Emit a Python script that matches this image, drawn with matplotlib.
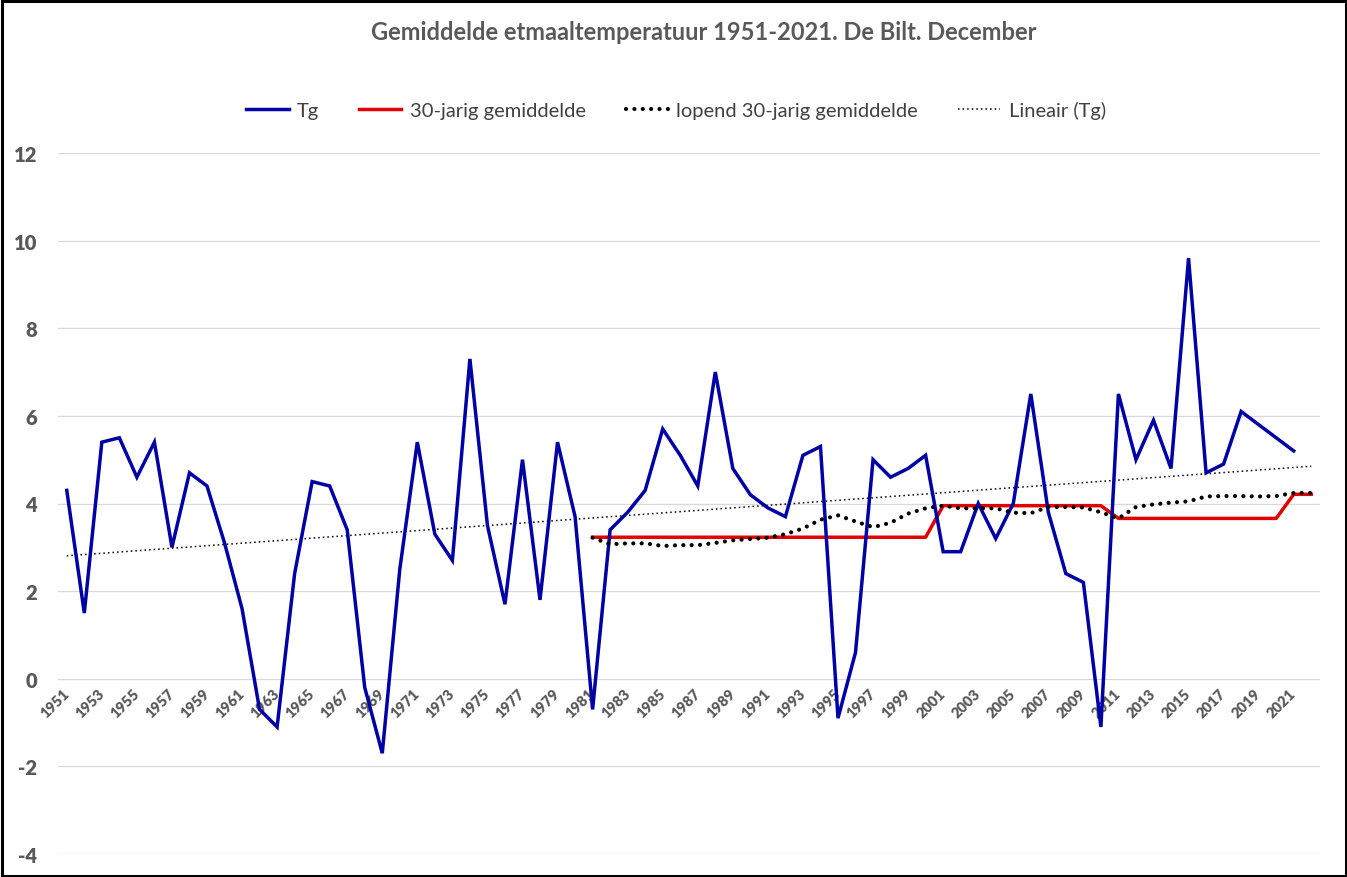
import numpy as np
import matplotlib
matplotlib.use("Agg")
import matplotlib.pyplot as plt
from matplotlib.patches import Rectangle
from matplotlib.lines import Line2D

plt.rcParams['font.family'] = ['Lato', 'DejaVu Sans']
plt.rcParams['axes.unicode_minus'] = False

years = list(range(1951, 2023))  # categories 1951..2022

tg = [4.3, 1.5, 5.4, 5.5, 4.6, 5.4, 3.0, 4.7, 4.4, 3.1,
      1.6, -0.7, -1.1, 2.4, 4.5, 4.4, 3.4, -0.2, -1.7, 2.5,
      5.4, 3.3, 2.7, 7.3, 3.5, 1.7, 5.0, 1.8, 5.4, 3.7,
      -0.7, 3.4, 3.8, 4.3, 5.7, 5.1, 4.4, 7.0, 4.8, 4.2,
      3.9, 3.7, 5.1, 5.3, -0.9, 0.6, 5.0, 4.6, 4.8, 5.1,
      2.9, 2.9, 4.0, 3.2, 4.0, 6.5, 3.8, 2.4, 2.2, -1.1,
      6.5, 5.0, 5.9, 4.8, 9.6, 4.7, 4.9, 6.1, 5.8, 5.5,
      5.2]  # 1951..2021

norm_start = 1981
norm30 = [3.23] * 20 + [3.95] * 10 + [3.66] * 10 + [4.21] * 2  # 1981..2022

lopend30 = [3.22, 3.07, 3.09, 3.09, 3.03, 3.05, 3.05, 3.10, 3.16, 3.19,
            3.22, 3.30, 3.43, 3.63, 3.73, 3.59, 3.46, 3.56, 3.77, 3.89,
            3.95, 3.89, 3.89, 3.89, 3.79, 3.78, 3.92, 3.92, 3.91, 3.80,
            3.66, 3.92, 3.98, 4.02, 4.05, 4.16, 4.17, 4.17, 4.16, 4.17,
            4.24, 4.24]  # 1981..2022

title = "Gemiddelde etmaaltemperatuur 1951-2021. De Bilt. December"
labels = ["Tg", "30-jarig gemiddelde", "lopend 30-jarig gemiddelde", "Lineair (Tg)"]

W, H = 1347, 878
fig = plt.figure(figsize=(W / 100, H / 100), dpi=100)
ax = fig.add_axes([58 / W, 23 / H, (1320 - 58) / W, (855 - 154) / H])

x_all = np.arange(len(years))
x_tg = x_all[:len(tg)]
x_norm = x_all[years.index(norm_start):]

# linear trendline of Tg (Excel style), over all categories
coef = np.polyfit(x_tg, np.array(tg), 1)
trend = np.polyval(coef, x_all)

ax.plot(x_tg, tg, color='#0000A6', lw=2.5, zorder=4, solid_joinstyle='miter')
ax.plot(x_norm, norm30, color='#E00000', lw=2.5, zorder=3)
ax.plot(x_norm, lopend30, color='black', lw=3.0, linestyle=(0, (0.01, 2.0)),
        dash_capstyle='round', zorder=5)
ax.plot(x_all, trend, color='black', lw=1.1, linestyle=(0, (1, 2)), zorder=2)

ax.set_xlim(-0.5, len(years) - 0.5)
ax.set_ylim(-4, 12)
ax.set_yticks(range(-4, 13, 2))
ax.yaxis.grid(True, color='#D9D9D9', lw=0.9)
ax.set_axisbelow(True)
for s in ax.spines.values():
    s.set_color('none')
ax.spines['bottom'].set_position(('data', 0))

ax.set_xticks(x_all[:len(tg)][::2])
ax.set_xticklabels([str(y) for y in years[:len(tg)][::2]], rotation=45,
                   ha='right', va='center', rotation_mode='anchor',
                   fontsize=10.5, fontweight='heavy', color='#595959')
ax.tick_params(axis='x', length=0, pad=9)
ax.tick_params(axis='y', length=0, pad=15, labelsize=14.5, labelcolor='#595959')
for t in ax.get_yticklabels():
    t.set_fontweight('heavy')

fig.text(704 / W, 1 - 33 / H, title, ha='center', va='center',
         fontsize=17, fontweight='bold', color='#595959')

handles = [
    Line2D([], [], color='#0000A6', lw=2.5),
    Line2D([], [], color='#E00000', lw=2.5),
    Line2D([], [], color='black', lw=3.0, linestyle=(0, (0.01, 2.0)), dash_capstyle='round'),
    Line2D([], [], color='black', lw=1.1, linestyle=(0, (1, 2))),
]
fig.legend(handles, labels, loc='center', bbox_to_anchor=(676 / W, 1 - 111 / H),
           ncol=4, frameon=False, fontsize=14.5, handlelength=2.1, handletextpad=0.4,
           columnspacing=2.0, labelcolor='#404040')

fig.patches.append(Rectangle((1.5 / W, 1.5 / H), 1 - 3 / W, 1 - 3 / H,
                             transform=fig.transFigure, fill=False,
                             edgecolor='black', lw=2.2))

fig.savefig('out.png', dpi=100)
